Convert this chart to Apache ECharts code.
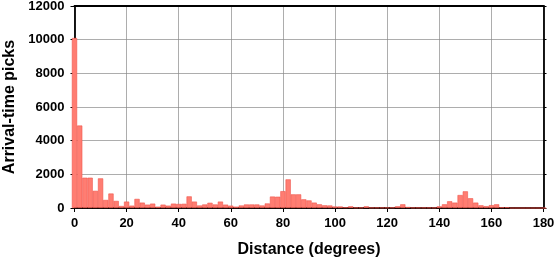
<!DOCTYPE html>
<html>
<head>
<meta charset="utf-8">
<script src="https://cdn.jsdelivr.net/npm/echarts@6/dist/echarts.min.js"></script>
<style>
html,body{margin:0;padding:0;background:#fff;}
#chart{width:555px;height:258px;}
</style>
</head>
<body>
<div id="chart"></div>
<script>
// Bin centres (degrees), 2-degree bins
const distances = [];
for (let d = 0; d <= 180; d += 2) distances.push(d);
const binWidth = 2;
// Arrival-time picks per bin
const picks = [
  10100, 4900, 1800, 1800, 1020, 1760, 480, 860, 420, 120,
  380, 140, 540, 320, 200, 260, 80, 200, 140, 260,
  240, 250, 690, 380, 150, 210, 310, 210, 380, 200,
  140, 80, 150, 210, 210, 210, 150, 270, 680, 670,
  1000, 1700, 810, 810, 515, 450, 320, 220, 160, 150,
  90, 90, 40, 100, 25, 25, 100, 20, 20, 20,
  20, 30, 100, 220, 60, 20, 20, 20, 20, 20,
  100, 220, 400, 320, 770, 990, 580, 320, 160, 110,
  170, 220, 40, 40, 0, 0, 0, 0, 0, 0, 0
];
const xTicks = [0, 20, 40, 60, 80, 100, 120, 140, 160, 180];
const yTicks = [0, 2000, 4000, 6000, 8000, 10000, 12000];

const G = {left: 74.5, right: 11.5, top: 6, bottom: 50};
const W = 555, H = 258;
const pxPerDeg = (W - G.left - G.right) / (xTicks[xTicks.length-1] - xTicks[0]);

const font = '"Liberation Sans", Arial, Helvetica, sans-serif';
const chart = echarts.init(document.getElementById('chart'), null, {renderer: 'canvas'});
chart.setOption({
  animation: false,
  backgroundColor: '#ffffff',
  grid: {left: G.left, right: G.right, top: G.top, bottom: G.bottom, containLabel: false, outerBoundsMode: 'none'},
  xAxis: [{
    type: 'value', min: xTicks[0], max: xTicks[xTicks.length-1], interval: 20,
    position: 'bottom',
    name: 'Distance (degrees)', nameLocation: 'middle', nameGap: 34,
    nameTextStyle: {fontFamily: font, fontSize: 16, fontWeight: 'bold', color: '#000'},
    axisLine: {show: true, onZero: false, lineStyle: {color: '#000', width: 1.8}},
    axisTick: {show: true, inside: false, length: 4, lineStyle: {color: '#000', width: 1}},
    axisLabel: {fontFamily: font, fontSize: 13, fontWeight: 'bold', color: '#000', margin: 9,
      formatter: v => String(v)},
    splitLine: {show: true, lineStyle: {color: '#8a8a8a', width: 0.7}}
  }, {
    type: 'value', min: xTicks[0], max: xTicks[xTicks.length-1], interval: 20,
    position: 'top',
    axisLine: {show: true, onZero: false, lineStyle: {color: '#000', width: 1.8}},
    axisTick: {show: false}, axisLabel: {show: false}, splitLine: {show: false}
  }],
  yAxis: [{
    type: 'value', min: yTicks[0], max: yTicks[yTicks.length-1], interval: 2000,
    position: 'left',
    name: 'Arrival-time picks', nameLocation: 'middle', nameGap: 46, nameRotate: 90,
    nameTextStyle: {fontFamily: font, fontSize: 16, fontWeight: 'bold', color: '#000'},
    axisLine: {show: true, onZero: false, lineStyle: {color: '#000', width: 1.8}},
    axisTick: {show: true, inside: false, length: 4, lineStyle: {color: '#000', width: 1}},
    axisLabel: {fontFamily: font, fontSize: 13, fontWeight: 'bold', color: '#000', margin: 10,
      formatter: v => String(v)},
    splitLine: {show: true, lineStyle: {color: '#8a8a8a', width: 0.7}}
  }, {
    type: 'value', min: yTicks[0], max: yTicks[yTicks.length-1], interval: 2000,
    position: 'right',
    axisLine: {show: true, onZero: false, lineStyle: {color: '#000', width: 1.8}},
    axisTick: {show: true, inside: false, length: 3, lineStyle: {color: '#000', width: 1}},
    axisLabel: {show: false}, splitLine: {show: false}
  }],
  series: [{
    type: 'bar',
    xAxisIndex: 0, yAxisIndex: 0,
    data: distances.map((d, i) => [d, picks[i]]),
    barWidth: binWidth * pxPerDeg,
    barGap: '-100%',
    clip: true,
    itemStyle: {color: '#ff7d72', borderColor: '#f0564b', borderWidth: 0.6},
    z: 1
  }]
});
</script>
</body>
</html>
